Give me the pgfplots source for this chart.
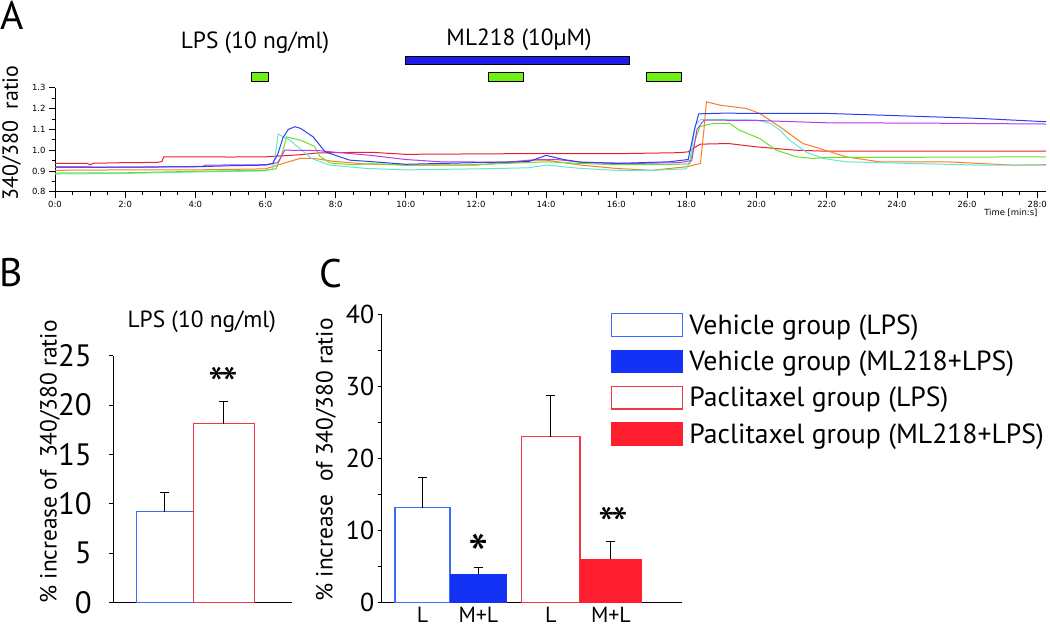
\documentclass[border=0pt]{standalone}
\usepackage{fontspec}
\setmainfont{PT Sans}
\newfontfamily\tickfont{DejaVu Sans}
\usepackage{pgfplots}
\pgfplotsset{compat=1.18}
\usepackage{pgfplotstable}

\definecolor{cred}{RGB}{235,30,45}
\definecolor{cblue}{RGB}{45,65,235}
\definecolor{cmag}{RGB}{185,60,235}
\definecolor{cgreen}{RGB}{105,225,40}
\definecolor{ccyan}{RGB}{100,230,210}
\definecolor{corange}{RGB}{250,125,35}
\definecolor{boxgreen}{RGB}{110,240,20}
\definecolor{barblue}{RGB}{30,30,230}
\definecolor{outblue}{RGB}{60,110,245}
\definecolor{fillblue}{RGB}{20,50,245}
\definecolor{outred}{RGB}{240,55,65}
\definecolor{fillred}{RGB}{255,30,45}

\pgfplotsset{
  boxlegend/.style={legend image code/.code={\draw[##1] (0bp,-11.25bp) rectangle (71bp,11.25bp);}},
  myerr/.style={error bars/.cd, y dir=plus, y explicit,
    error bar style={black, line width=1bp},
    error mark options={black, line width=1bp, mark size=4.5bp, rotate=90}},
}
\newcommand{\dstar}{*\kern-4bp*}

\pgfplotstableread{
t r
0 0.937
0.9 0.937
1.0 0.930
1.1 0.937
2 0.940
2.9 0.941
3.05 0.945
3.1 0.968
4 0.968
5 0.967
6 0.968
7 0.978
7.5 0.987
9 0.990
10 0.980
12 0.982
14 0.984
16 0.983
17.8 0.988
18.05 0.992
18.3 1.020
18.4 1.029
19.2 1.032
20 1.016
21.1 1.000
22 0.995
24 0.996
26 0.995
28.25 0.995
}\redtab

\pgfplotstableread{
t r
0 0.920
2 0.918
4 0.920
5 0.925
6 0.928
6.2 0.935
6.35 0.980
6.5 1.060
6.65 1.100
6.84 1.113
7.0 1.105
7.36 1.064
7.7 0.992
8.4 0.952
9 0.945
10 0.932
12 0.940
13.5 0.945
14 0.975
14.5 0.955
15 0.942
16 0.936
17.5 0.944
18.05 0.955
18.23 1.100
18.35 1.175
19 1.178
22 1.177
23.5 1.169
26.35 1.153
28.25 1.137
}\bluetab

\pgfplotstableread{
t r
0 0.917
2 0.918
4.2 0.922
4.3 0.928
6 0.930
6.35 0.940
6.45 0.970
6.55 1.000
7.5 0.998
8 0.990
9 0.975
10 0.955
11 0.944
13 0.942
13.8 0.955
14.3 0.955
15 0.942
16.5 0.936
17.8 0.940
18.15 0.950
18.3 1.100
18.5 1.145
20 1.143
22 1.132
25 1.130
28.25 1.126
}\magtab

\pgfplotstableread{
t r
0 0.890
2 0.891
4 0.898
6 0.903
6.3 0.910
6.45 0.970
6.6 1.064
7.0 1.048
7.4 1.018
7.55 0.970
7.85 0.938
8.5 0.930
9 0.935
10 0.928
12 0.930
14 0.944
15 0.936
16 0.930
17.5 0.930
18.1 0.935
18.25 1.050
18.38 1.113
18.76 1.129
19.23 1.129
19.5 1.097
20.09 1.056
20.56 1.000
21.13 0.968
21.6 0.960
22 0.965
25 0.966
28.25 0.968
}\greentab

\pgfplotstableread{
t r
0 0.885
2 0.888
4 0.895
6 0.900
6.2 0.910
6.3 1.000
6.36 1.077
6.7 1.048
6.98 1.008
7.31 0.960
7.83 0.928
8.88 0.912
10 0.905
12 0.910
13.5 0.915
14 0.928
15 0.912
16 0.903
17 0.903
18 0.910
18.1 0.950
18.25 1.120
18.4 1.148
20 1.145
20.4 1.129
20.66 1.097
20.94 1.048
21.4 0.992
21.9 0.960
22.55 0.944
24.45 0.936
26.35 0.928
28.25 0.928
}\cyantab

\pgfplotstableread{
t r
0 0.903
2 0.905
4 0.905
6 0.910
6.5 0.936
6.98 0.960
7.4 0.960
7.9 0.947
8.9 0.933
9.8 0.930
10 0.928
12 0.928
13.5 0.952
14 0.952
15 0.928
16 0.912
17 0.903
18 0.920
18.4 0.936
18.5 1.100
18.57 1.233
18.95 1.217
19.7 1.201
20.09 1.177
20.66 1.113
21.32 1.032
21.8 1.008
22.55 0.968
23.5 0.944
25.4 0.944
27.3 0.928
28.25 0.930
}\orangetab

\begin{document}
\begin{tikzpicture}
\path[use as bounding box] (0bp,0bp) rectangle (1050bp,627bp);

\node[font=\fontsize{40}{40}\selectfont] at (12bp,612bp) {A};
\node[font=\fontsize{40}{40}\selectfont] at (11bp,354.5bp) {B};
\node[font=\fontsize{40}{40}\selectfont] at (330.5bp,353.5bp) {C};

% ---------------- Panel A ----------------
\begin{axis}[
  at={(55bp,435.3bp)}, anchor=south west,
  scale only axis, width=991bp, height=103.8bp,
  xmin=0, xmax=28.25, ymin=0.8, ymax=1.3,
  axis lines=left, axis line style={-, line width=0.8bp},
  tick align=outside,
  xtick={0,2,4,6,8,10,12,14,16,18,20,22,24,26,28},
  xticklabels={0:0,2:0,4:0,6:0,8:0,10:0,12:0,14:0,16:0,18:0,20:0,22:0,24:0,26:0,28:0},
  minor x tick num=3,
  extra x ticks={1,3,5,7,9,11,13,15,17,19,21,23,25,27},
  extra x tick style={major tick length=4.5bp, xticklabel={}},
  ytick={0.8,0.9,1.0,1.1,1.2,1.3},
  yticklabels={0.8,0.9,1.0,1.1,1.2,1.3},
  minor y tick num=1,
  major tick length=6bp, minor tick length=3bp,
  tick style={black, line width=0.8bp},
  ticklabel style={font=\tickfont\fontsize{8.5}{10}\selectfont},
  xlabel={Time [min:s]},
  every axis x label/.style={at={(axis description cs:0.995,-0.205)}, anchor=east, font=\tickfont\fontsize{8.5}{10}\selectfont},
  ylabel={340/380\ \ ratio},
  every axis y label/.style={at={(axis description cs:-0.0437,0.566)}, rotate=90, anchor=center, font=\fontsize{22}{22}\selectfont},
  clip=false,
]
\addplot[cred, line width=1bp] table {\redtab};
\addplot[corange, line width=1bp] table {\orangetab};
\addplot[ccyan, line width=1bp] table {\cyantab};
\addplot[cgreen, line width=1bp] table {\greentab};
\addplot[cmag, line width=1bp] table {\magtab};
\addplot[cblue, line width=1bp] table {\bluetab};

\draw[black, line width=0.6bp, fill=boxgreen] (axis cs:5.59,1.333) rectangle (axis cs:6.07,1.377);
\draw[black, line width=0.6bp, fill=boxgreen] (axis cs:12.34,1.333) rectangle (axis cs:13.34,1.377);
\draw[black, line width=0.6bp, fill=boxgreen] (axis cs:16.85,1.333) rectangle (axis cs:17.85,1.377);
\draw[black, line width=0.6bp, fill=barblue] (axis cs:9.98,1.415) rectangle (axis cs:16.36,1.454);
\node[font=\fontsize{23.5}{23.5}\selectfont] at (axis cs:5.70,1.516) {LPS (10 ng/ml)};
\node[font=\fontsize{23.5}{23.5}\selectfont] at (axis cs:13.23,1.531) {ML218 (10µM)};
\end{axis}

% ---------------- Panel B ----------------
\begin{axis}[
  at={(113.3bp,24.3bp)}, anchor=south west,
  scale only axis, width=178.7bp, height=247bp,
  xmin=0.127, xmax=3.161, ymin=0, ymax=25,
  axis lines=left, axis line style={-, line width=1bp},
  xtick=\empty, ytick={0,5,10,15,20,25},
  /pgf/number format/assume math mode=true,
  tick align=outside, major tick length=4bp, tick style={black, line width=1bp},
  yticklabel style={font=\fontsize{31}{31}\selectfont, xshift=-14bp},
  title={LPS (10 ng/ml)},
  title style={at={(axis description cs:0.495,1.112)}, anchor=center, font=\fontsize{23.5}{23.5}\selectfont},
  ylabel={\% increase of\ \ 340/380 ratio},
  every axis y label/.style={at={(axis description cs:-0.355,0.57)}, rotate=90, anchor=center, font=\fontsize{23.5}{23.5}\selectfont},
  clip=false,
]
\addplot[ybar, bar shift=0pt, bar width=0.968, draw=outblue, fill=white, line width=1.2bp, myerr]
  coordinates {(1,9.2) +- (0,1.93)};
\addplot[ybar, bar shift=0pt, bar width=1.035, draw=outred, fill=white, line width=1.2bp, myerr]
  coordinates {(2,18.1) +- (0,2.25)};
\node[anchor=north, inner sep=0pt, font=\fontsize{48}{48}\selectfont] at (axis cs:2.0,23.8) {\dstar};
\end{axis}

% ---------------- Panel C ----------------
\begin{axis}[
  at={(381.7bp,24.3bp)}, anchor=south west,
  scale only axis, width=300bp, height=288.4bp,
  xmin=0, xmax=300, ymin=0, ymax=40,
  axis lines=left, axis line style={-, line width=1bp},
  xtick={40.8,96.7,169.2,229.2}, xticklabels={L,M+L,L,M+L},
  xtick style={draw=none},
  xticklabel style={font=\fontsize{22}{22}\selectfont, yshift=3bp},
  ytick={0,5,10,15,20,25,30,35,40}, yticklabels={0,,10,,20,,30,,40},
  tick align=outside, major tick length=4bp, ytick style={black, line width=1bp},
  yticklabel style={font=\fontsize{26}{26}\selectfont},
  ylabel={\% increase\ \ of 340/380 ratio},
  every axis y label/.style={at={(axis description cs:-0.186,0.495)}, rotate=90, anchor=center, font=\fontsize{23.5}{23.5}\selectfont},
  clip=false,
  legend style={at={(axis description cs:0.764,1.0045)}, anchor=north west, draw=none, fill=none,
    inner sep=0pt, row sep=12.7bp, font=\fontsize{27.8}{27.8}\selectfont,
    nodes={inner sep=0pt, anchor=west},
    /tikz/every odd column/.style={column sep=6bp}},
  legend cell align=left,
]
\addplot[ybar, bar shift=0pt, bar width=55, draw=outblue, fill=white, line width=1.2bp, boxlegend, myerr]
  coordinates {(40.8,13.2) +- (0,4.1)};
\addlegendentry{Vehicle group (LPS)}
\addplot[ybar, bar shift=0pt, bar width=56.7, draw=fillblue, fill=fillblue, line width=1bp, boxlegend, myerr]
  coordinates {(96.7,3.93) +- (0,0.92)};
\addlegendentry{Vehicle group (ML218+LPS)}
\addplot[ybar, bar shift=0pt, bar width=58.3, draw=outred, fill=white, line width=1.2bp, boxlegend, myerr]
  coordinates {(169.2,23.0) +- (0,5.8)};
\addlegendentry{Paclitaxel group (LPS)}
\addplot[ybar, bar shift=0pt, bar width=61.7, draw=fillred, fill=fillred, line width=1bp, boxlegend, myerr]
  coordinates {(229.2,6.0) +- (0,2.55)};
\addlegendentry{Paclitaxel group (ML218+LPS)}
\node[anchor=north, inner sep=0pt, font=\fontsize{58}{58}\selectfont] at (axis cs:96.7,9.5) {*};
\node[anchor=north, inner sep=0pt, font=\fontsize{48}{48}\selectfont] at (axis cs:232,13.2) {\dstar};
\end{axis}
\end{tikzpicture}
\end{document}
